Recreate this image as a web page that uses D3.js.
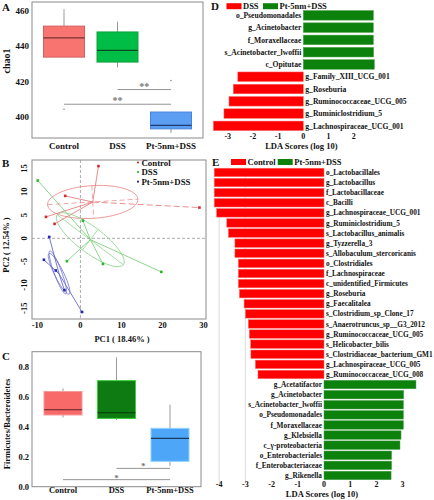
<!DOCTYPE html>
<html><head><meta charset="utf-8">
<script src="https://cdn.jsdelivr.net/npm/d3@7"></script>
<style>body{margin:0;background:#fff} text{font-family:"Liberation Serif","Times New Roman",serif;font-weight:bold;fill:#111}</style>
</head><body><svg id="c" width="434" height="500"></svg>
<script>
// ---------- data ----------
const groups = ["Control", "DSS", "Pt-5nm+DSS"];

// Panel A: chao1
const chao1WhiskerLow = [433.8, 428, 391];
const chao1Q1 = [433.8, 431, 393.3];
const chao1Median = [444.7, 437.6, 395.3];
const chao1Q3 = [451.3, 448, 402.8];
const chao1WhiskerHigh = [460.8, 453.8, 402.8];
const chao1Outliers = [[404.4], [], [420.6]];
const chao1Ticks = [400, 420, 440, 460];
const chao1SigFrom = ["DSS", "Control"];
const chao1SigTo = ["Pt-5nm+DSS", "Pt-5nm+DSS"];
const chao1SigLevel = [415.5, 407.2];
const chao1SigLabel = ["**", "**"];

// Panel C: Firmicutes/Bacteroidetes
const fbWhiskerLow = [0.462, 0.445, 0.14];
const fbQ1 = [0.478, 0.455, 0.169];
const fbMedian = [0.513, 0.493, 0.322];
const fbQ3 = [0.635, 0.707, 0.389];
const fbWhiskerHigh = [0.655, 0.862, 0.547];
const fbTicks = [0.0, 0.2, 0.4, 0.6, 0.8];
const fbSigFrom = ["DSS", "Control"];
const fbSigTo = ["Pt-5nm+DSS", "Pt-5nm+DSS"];
const fbSigLevel = [0.122, 0.047];
const fbSigLabel = ["*", "*"];

// Panel B: PCoA
const pcaGroup = ["Control","Control","Control","Control","Control",
                  "DSS","DSS","DSS","DSS","DSS",
                  "Pt-5nm+DSS","Pt-5nm+DSS","Pt-5nm+DSS","Pt-5nm+DSS","Pt-5nm+DSS"];
const pc1 = [4.4, -3.7, -8.4, -6.3, 29.0, -10.4, 0.6, -3.3, 5.5, 19.7, -7.6, -8.9, -6.0, -3.9, 0.4];
const pc2 = [15.5, 9.1, 4.6, 3.1, 6.6, 12.4, 3.8, -4.9, -5.5, -7.2, 0.3, -4.6, -6.9, -11.1, -15.8];
const pcTicksX = [-10, 0, 10, 20, 30];
const pcTicksY = [-15, -10, -5, 0, 5, 10, 15];
const ellipseGroup = ["Control", "DSS", "Pt-5nm+DSS", "Pt-5nm+DSS"];
const ellipseCenter = [[3.0, 7.8], [2.4, -0.3], [-5.2, -7.6], [-5.5, -7.3]];
const ellipseAxisA = [[11.0, 0.6], [8.05, -5.35], [2.44, -4.35], [1.95, -4.6]];
const ellipseAxisB = [[0.24, -3.5], [-1.9, -2.2], [0.99, 0.43], [0.85, 0.3]];

// Panel D: LEfSe DSS vs Pt-5nm+DSS
const ldaDNames = ["o_Pseudomonadales", "g_Acinetobacter", "f_Moraxellaceae", "s_Acinetobacter_lwoffii", "c_Opitutae",
  "g_Family_XIII_UCG_001", "g_Roseburia", "g_Ruminococcaceae_UCG_005", "g_Ruminiclostridium_5", "g_Lachnospiraceae_UCG_001"];
const ldaDScores = [2.78, 2.78, 2.78, 2.79, 2.82, -2.6, -2.78, -2.95, -3.15, -3.57];
const ldaDTicks = [-3, -2, -1, 0, 1, 2];

// Panel E: LEfSe Control vs Pt-5nm+DSS
const ldaENames = ["o_Lactobacillales", "g_Lactobacillus", "f_Lactobacillaceae", "c_Bacilli", "g_Lachnospiraceae_UCG_001",
  "g_Ruminiclostridium_5", "s_Lactobacillus_animalis", "g_Tyzzerella_3", "s_Allobaculum_stercoricanis", "o_Clostridiales",
  "f_Lachnospiraceae", "c_unidentified_Firmicutes", "g_Roseburia", "g_Faecalitalea", "s_Clostridium_sp_Clone_17",
  "s_Anaerotruncus_sp__G3_2012", "g_Ruminococcaceae_UCG_005", "s_Helicobacter_bilis", "s_Clostridiaceae_bacterium_GM1",
  "g_Lachnospiraceae_UCG_005", "g_Ruminococcaceae_UCG_008", "g_Acetatifactor", "g_Acinetobacter", "s_Acinetobacter_lwoffii",
  "o_Pseudomonadales", "f_Moraxellaceae", "g_Klebsiella", "c_γ-proteobacteria", "o_Enterobacteriales",
  "f_Enterobacteriaceae", "g_Rikenella"];
const ldaEScores = [-4.19, -4.19, -4.19, -4.19, -4.1, -3.71, -3.65, -3.4, -3.4, -3.27, -3.27, -3.27, -3.23, -3.05, -3.0,
  -2.89, -2.85, -2.8, -2.79, -2.62, -2.52, 3.51, 3.04, 3.03, 3.03, 3.03, 2.94, 2.9, 2.58, 2.58, 2.56];
const ldaETicks = [-4, -3, -2, -1, 0, 1, 2, 3];

// ---------- drawing ----------
const svg = d3.select("#c");
svg.append("rect").attr("width", 434).attr("height", 500).attr("fill", "#fff");
const FRAME = "#8a8a8a";

function label(t, x, y, size, anchor, rot) {
  const el = svg.append("text").attr("font-size", size).attr("text-anchor", anchor || "start").text(t);
  if (rot) el.attr("transform", `translate(${x},${y}) rotate(${rot})`);
  else el.attr("x", x).attr("y", y);
  return el;
}

function boxPanel(cfg) {
  const g = svg.append("g");
  const x = d3.scalePoint().domain(groups).range([cfg.left + cfg.inset, cfg.right - cfg.inset]);
  const y = d3.scaleLinear().domain(cfg.domain).range([cfg.bottom, cfg.top]);
  g.append("rect").attr("x", cfg.left).attr("y", cfg.top).attr("width", cfg.right - cfg.left)
    .attr("height", cfg.bottom - cfg.top).attr("fill", "none").attr("stroke", FRAME).attr("stroke-width", 1);
  groups.forEach((grp, i) => {
    const cx = x(grp), hw = cfg.boxW / 2;
    g.append("line").attr("x1", cx).attr("x2", cx).attr("y1", y(cfg.wl[i])).attr("y2", y(cfg.q1[i]))
      .attr("stroke", "#999").attr("stroke-width", 1);
    g.append("line").attr("x1", cx).attr("x2", cx).attr("y1", y(cfg.q3[i])).attr("y2", y(cfg.wh[i]))
      .attr("stroke", "#999").attr("stroke-width", 1);
    g.append("rect").attr("x", cx - hw).attr("y", y(cfg.q3[i])).attr("width", cfg.boxW)
      .attr("height", y(cfg.q1[i]) - y(cfg.q3[i])).attr("fill", cfg.fill[i]).attr("stroke", cfg.stroke[i]).attr("stroke-width", 1);
    g.append("line").attr("x1", cx - hw).attr("x2", cx + hw).attr("y1", y(cfg.med[i])).attr("y2", y(cfg.med[i]))
      .attr("stroke", cfg.medColor[i]).attr("stroke-width", 1.2);
    (cfg.outliers ? cfg.outliers[i] : []).forEach(v => {
      g.append("circle").attr("cx", cx).attr("cy", y(v)).attr("r", 0.8).attr("fill", "#888");
    });
  });
  cfg.sigFrom.forEach((f, k) => {
    const x1 = x(f), x2 = x(cfg.sigTo[k]), yy = y(cfg.sigLevel[k]);
    g.append("line").attr("x1", x1).attr("x2", x2).attr("y1", yy).attr("y2", yy).attr("stroke", "#888").attr("stroke-width", 0.9);
    g.append("text").attr("x", (x1 + x2) / 2).attr("y", yy + cfg.starDy).attr("text-anchor", "middle")
      .attr("font-size", cfg.starSize).style("fill", "#777").text(cfg.sigLabel[k]);
  });
  cfg.ticks.forEach(t => {
    g.append("text").attr("x", cfg.left - 3).attr("y", y(t)).attr("dy", "0.35em").attr("text-anchor", "end")
      .attr("font-size", cfg.tickSize).text(cfg.fmt(t));
  });
  groups.forEach(grp => {
    g.append("text").attr("x", x(grp)).attr("y", cfg.catY).attr("text-anchor", "middle").attr("font-size", cfg.catSize).text(grp);
  });
  return {x, y};
}

// Panel A
boxPanel({left: 32, right: 203, top: 2, bottom: 138, inset: 32, domain: [388.15, 464.9], boxW: 41,
  wl: chao1WhiskerLow, q1: chao1Q1, med: chao1Median, q3: chao1Q3, wh: chao1WhiskerHigh, outliers: chao1Outliers,
  fill: ["#f87470", "#00bd45", "#5b9ef2"], stroke: ["#d46060", "#14a040", "#4a84d8"], medColor: ["#7a3030", "#0a4a20", "#203a70"],
  sigFrom: chao1SigFrom, sigTo: chao1SigTo, sigLevel: chao1SigLevel, sigLabel: chao1SigLabel, starDy: 0, starSize: 10,
  ticks: chao1Ticks, fmt: d3.format("d"), tickSize: 9, catY: 149, catSize: 9});
label("A", 2, 11, 11, "start");
label("chao1", 10, 61, 10, "middle", -90);

// Panel C
boxPanel({left: 32, right: 201, top: 351.7, bottom: 486.7, inset: 31, domain: [0, 0.9], boxW: 38,
  wl: fbWhiskerLow, q1: fbQ1, med: fbMedian, q3: fbQ3, wh: fbWhiskerHigh, outliers: null,
  fill: ["#f86a6a", "#0e7a12", "#4ea6f8"], stroke: ["#f59a9a", "#3ad03a", "#8fd0ff"], medColor: ["#5a2020", "#053a08", "#1a3a60"],
  sigFrom: fbSigFrom, sigTo: fbSigTo, sigLevel: fbSigLevel, sigLabel: fbSigLabel, starDy: 1, starSize: 9,
  ticks: fbTicks, fmt: d3.format(".1f"), tickSize: 8.5, catY: 493, catSize: 8.5});
label("C", 2, 360, 11, "start");
label("Firmicutes/Bacteroidetes", 10, 424, 8.5, "middle", -90);

// Panel B
(function () {
  const L = 32, R = 206, T = 160, B = 319;
  const x = d3.scaleLinear().domain([-11.8, 30.6]).range([L, R]);
  const y = d3.scaleLinear().domain([-17.3, 16.8]).range([B, T]);
  const colPt = {"Control": "#d42a2a", "DSS": "#2bb52b", "Pt-5nm+DSS": "#2626b0"};
  const colLn = {"Control": "#e88080", "DSS": "#7fd07f", "Pt-5nm+DSS": "#6a6ad0"};
  const g = svg.append("g");
  g.append("rect").attr("x", L).attr("y", T).attr("width", R - L).attr("height", B - T)
    .attr("fill", "none").attr("stroke", FRAME);
  g.append("line").attr("x1", x(0)).attr("x2", x(0)).attr("y1", T).attr("y2", B).attr("stroke", "#999").attr("stroke-dasharray", "3,2").attr("stroke-width", 0.8);
  g.append("line").attr("x1", L).attr("x2", R).attr("y1", y(0)).attr("y2", y(0)).attr("stroke", "#999").attr("stroke-dasharray", "3,2").attr("stroke-width", 0.8);
  // ellipses
  ellipseGroup.forEach((grp, k) => {
    const c = ellipseCenter[k], a = ellipseAxisA[k], b = ellipseAxisB[k];
    const pts = d3.range(0, 361, 5).map(deg => {
      const t = deg * Math.PI / 180;
      return [x(c[0] + a[0] * Math.cos(t) + b[0] * Math.sin(t)), y(c[1] + a[1] * Math.cos(t) + b[1] * Math.sin(t))];
    });
    g.append("path").attr("d", d3.line()(pts)).attr("fill", "none").attr("stroke", colLn[grp]).attr("stroke-width", 0.8);
    if (k < 2) {
      const dash = grp === "Control" ? "5,3" : null;
      g.append("line").attr("x1", x(c[0] - a[0])).attr("y1", y(c[1] - a[1])).attr("x2", x(c[0] + a[0])).attr("y2", y(c[1] + a[1]))
        .attr("stroke", colLn[grp]).attr("stroke-width", 0.7).attr("stroke-dasharray", dash);
      g.append("line").attr("x1", x(c[0] - b[0])).attr("y1", y(c[1] - b[1])).attr("x2", x(c[0] + b[0])).attr("y2", y(c[1] + b[1]))
        .attr("stroke", colLn[grp]).attr("stroke-width", 0.7).attr("stroke-dasharray", dash);
    }
  });
  // spider lines to group centroid
  groups.forEach(grp => {
    const idx = d3.range(pc1.length).filter(i => pcaGroup[i] === grp);
    const mx = d3.mean(idx, i => pc1[i]), my = d3.mean(idx, i => pc2[i]);
    idx.forEach(i => {
      g.append("line").attr("x1", x(mx)).attr("y1", y(my)).attr("x2", x(pc1[i])).attr("y2", y(pc2[i]))
        .attr("stroke", colLn[grp]).attr("stroke-width", 0.9)
        .attr("stroke-dasharray", grp === "Control" && pc1[i] > 20 ? "6,3" : null);
    });
  });
  pc1.forEach((v, i) => {
    g.append("rect").attr("x", x(v) - 1.3).attr("y", y(pc2[i]) - 1.3).attr("width", 2.6).attr("height", 2.6).attr("fill", colPt[pcaGroup[i]]);
  });
  pcTicksX.forEach(t => {
    g.append("text").attr("x", x(t) - (t < 0 ? 2 : 0)).attr("y", B + 9).attr("text-anchor", "middle").attr("font-size", 8.5).text(t);
  });
  pcTicksY.forEach(t => {
    g.append("text").attr("transform", `translate(${L - 5},${y(t)}) rotate(-90)`).attr("text-anchor", "middle")
      .attr("font-size", 8.5).text(t);
  });
  // legend
  groups.forEach((grp, i) => {
    g.append("circle").attr("cx", 138).attr("cy", 162.5 + i * 9.6).attr("r", 1.1).attr("fill", colPt[grp]);
    g.append("text").attr("x", 141.5).attr("y", 162.5 + i * 9.6).attr("dy", "0.35em").attr("font-size", 8.8).text(grp);
  });
  label("B", 2, 167, 11, "start");
  label("PC2 ( 12.54% )", 9, 245, 8.5, "middle", -90);
  label("PC1 ( 18.46% )", 122, 342, 8.5, "middle");
})();

// LEfSe panels
function ldaPanel(cfg) {
  const g = svg.append("g");
  const x = d3.scaleLinear().domain(cfg.domain).range(cfg.range);
  const y = d3.scaleBand().domain(cfg.names).range([cfg.top, cfg.bottom]).paddingInner(cfg.pad).paddingOuter(cfg.pad / 2);
  (cfg.grid || []).forEach(t => {
    g.append("line").attr("x1", x(t)).attr("x2", x(t)).attr("y1", cfg.top).attr("y2", cfg.bottom + 3)
      .attr("stroke", "#e2e2e2").attr("stroke-width", 1.2);
  });
  cfg.names.forEach((n, i) => {
    const v = cfg.scores[i];
    g.append("rect").attr("x", x(Math.min(0, v))).attr("y", y(n)).attr("width", Math.abs(x(v) - x(0)))
      .attr("height", y.bandwidth()).attr("fill", v < 0 ? "#ff0000" : "#0c820c")
      .attr("stroke", v < 0 ? "#ff7070" : "#4aa04a").attr("stroke-width", 0.5);
    g.append("text").attr("x", v < 0 ? x(0) + 2 : x(0) - 2).attr("y", y(n) + y.bandwidth() / 2).attr("dy", "0.35em")
      .attr("text-anchor", v < 0 ? "start" : "end").attr("font-size", cfg.fontSize).text(n);
  });
  cfg.ticks.forEach(t => {
    g.append("text").attr("x", x(t)).attr("y", cfg.tickY).attr("dy", "0.35em").attr("text-anchor", "middle")
      .attr("font-size", 8).text(t);
  });
  g.append("text").attr("x", x(0) - 2).attr("y", cfg.tickY + 10).attr("dy", "0.35em").attr("text-anchor", "middle")
    .attr("font-size", 8.5).text("LDA Scores (log 10)");
  // legend
  const lg = cfg.legend;
  g.append("rect").attr("x", lg.x).attr("y", lg.y).attr("width", 15).attr("height", 6).attr("fill", "#ff0000");
  g.append("text").attr("x", lg.x + 16.5).attr("y", lg.y + 3).attr("dy", "0.35em").attr("font-size", 8.5).text(lg.labels[0]);
  g.append("rect").attr("x", lg.x2).attr("y", lg.y).attr("width", 15).attr("height", 6).attr("fill", "#0c820c");
  g.append("text").attr("x", lg.x2 + 16.5).attr("y", lg.y + 3).attr("dy", "0.35em").attr("font-size", 8.5).text(lg.labels[1]);
}

ldaPanel({names: ldaDNames, scores: ldaDScores, domain: [-3.6, 3.0], range: [212.6, 378.9], top: 9.2, bottom: 132,
  pad: 0.22, fontSize: 7.6, ticks: ldaDTicks, tickY: 136, grid: null,
  legend: {x: 226.5, x2: 263, y: 3.2, labels: ["DSS", "Pt-5nm+DSS"]}});
label("D", 211, 10, 11, "start");

ldaPanel({names: ldaENames, scores: ldaEScores, domain: [-4.2, 3.6], range: [213.96, 418.32], top: 167.4, bottom: 480.5,
  pad: 0.16, fontSize: 7.3, ticks: ldaETicks, tickY: 484.3, grid: [-4, -3],
  legend: {x: 231, x2: 277.7, y: 159, labels: ["Control", "Pt-5nm+DSS"]}});
label("E", 212, 166, 11, "start");
</script></body></html>
